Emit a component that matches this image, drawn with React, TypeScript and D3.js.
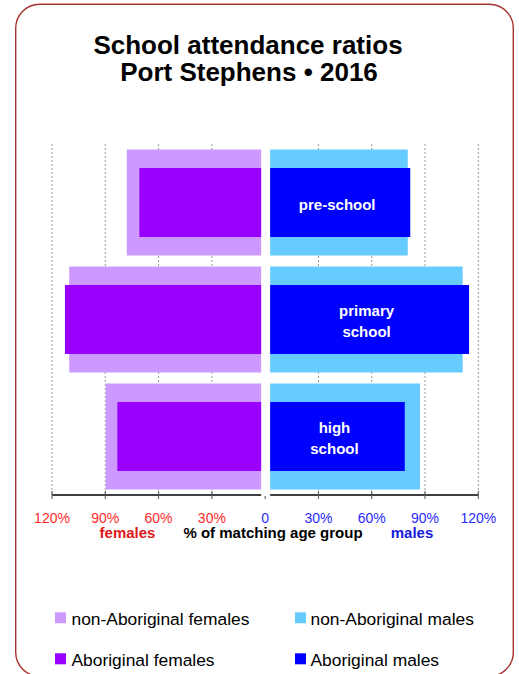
import React from "react";
import * as d3 from "d3";

const categories = ["pre-school", "primary school", "high school"];
const nonAborigFemales = [77.9, 110.3, 89.8];
const aborigFemales = [70.8, 112.7, 83.2];
const nonAborigMales = [80.3, 111.2, 87.2];
const aborigMales = [81.7, 114.8, 78.6];
const tickValues = [-120, -90, -60, -30, 0, 30, 60, 90, 120];
const tickLabels = ["120%", "90%", "60%", "30%", "0", "30%", "60%", "90%", "120%"];
const categoryLabels = [["pre-school"], ["primary", "school"], ["high", "school"]];

const C_LIGHT_F = "#cc99ff";
const C_DARK_F = "#9900ff";
const C_LIGHT_M = "#66ccff";
const C_DARK_M = "#0000ff";
const FONT = "Liberation Sans, Arial, Helvetica, sans-serif";

export default function App() {
  const W = 519, H = 674;
  const x = d3.scaleLinear().domain([-120, 120]).range([52, 478.3]);
  const y = d3.scaleBand().domain(categories).range([144, 495]).padding(0);
  const x0 = x(0);
  const gapL = 4, gapR = 5;
  const lightH = y.bandwidth() * 0.906;
  const darkH = y.bandwidth() * 0.59;
  const axisY = 495;

  return (
    <svg width={W} height={H} style={{ position: "absolute", left: 0, top: 0 }} fontFamily={FONT}>
      <rect x={0} y={0} width={W} height={H} fill="#fff" />
      <rect x={15.7} y={4.3} width={497.6} height={672} rx={24} ry={24} fill="#fff" stroke="#a83232" strokeWidth={1.4} />
      <text x={248} y={54} textAnchor="middle" fontSize={26} fontWeight="bold" fill="#000">School attendance ratios</text>
      <text x={249} y={81} textAnchor="middle" fontSize={26} fontWeight="bold" fill="#000">Port Stephens • 2016</text>

      {/* gridlines */}
      {tickValues.filter((t) => t !== 0).map((t, i) => (
        <line key={"g" + i} x1={x(t)} x2={x(t)} y1={144} y2={axisY} stroke="#999" strokeWidth={1} strokeDasharray="2,2" />
      ))}

      {/* bars */}
      {categories.map((c, i) => {
        const cy = (y(c) as number) + y.bandwidth() / 2;
        return (
          <g key={c}>
            <rect x={x(-nonAborigFemales[i])} y={cy - lightH / 2} width={x0 - gapL - x(-nonAborigFemales[i])} height={lightH} fill={C_LIGHT_F} />
            <rect x={x(-aborigFemales[i])} y={cy - darkH / 2} width={x0 - gapL - x(-aborigFemales[i])} height={darkH} fill={C_DARK_F} />
            <rect x={x0 + gapR} y={cy - lightH / 2} width={x(nonAborigMales[i]) - x0 - gapR} height={lightH} fill={C_LIGHT_M} />
            <rect x={x0 + gapR} y={cy - darkH / 2} width={x(aborigMales[i]) - x0 - gapR} height={darkH} fill={C_DARK_M} />
          </g>
        );
      })}

      {/* category labels */}
      {categories.map((c, i) => {
        const cy = (y(c) as number) + y.bandwidth() / 2;
        const cx = (x0 + gapR + x(aborigMales[i])) / 2 - 3;
        const lines = categoryLabels[i];
        const startY = lines.length === 1 ? cy + 7.5 : cy - 4;
        return (
          <text key={"l" + c} textAnchor="middle" fontSize={15} fontWeight="bold" fill="#fff">
            {lines.map((ln, j) => (
              <tspan key={j} x={cx} y={startY + j * 21}>{ln}</tspan>
            ))}
          </text>
        );
      })}

      {/* axis */}
      <line x1={x(-120)} x2={x0 - gapL} y1={axisY} y2={axisY} stroke="#000" strokeWidth={1.3} />
      <line x1={x0 + gapR} x2={x(120)} y1={axisY} y2={axisY} stroke="#000" strokeWidth={1.3} />
      {tickValues.map((t, i) => (
        <line key={"t" + i} x1={x(t)} x2={x(t)} y1={t === 0 ? 496 : 491} y2={499} stroke="#555" strokeWidth={1} />
      ))}
      {tickValues.map((t, i) => (
        <text key={"tl" + i} x={x(t)} y={522.5} textAnchor="middle" fontSize={14} fill={t < 0 ? "#ff2a2a" : "#2a2aff"}>
          {tickLabels[i]}
        </text>
      ))}
      <text x={127.5} y={538} textAnchor="middle" fontSize={15} fontWeight="bold" fill="#e01818">females</text>
      <text x={273} y={538} textAnchor="middle" fontSize={15} fontWeight="bold" fill="#000">% of matching age group</text>
      <text x={412} y={538} textAnchor="middle" fontSize={15} fontWeight="bold" fill="#1818e0">males</text>

      {/* legend */}
      <rect x={55} y={612.3} width={11} height={11} fill={C_LIGHT_F} />
      <text x={71.5} y={625} fontSize={17.4} fill="#000">non-Aboriginal females</text>
      <rect x={295} y={612.3} width={11} height={11} fill={C_LIGHT_M} />
      <text x={310.5} y={625} fontSize={17.4} fill="#000">non-Aboriginal males</text>
      <rect x={55} y={653.3} width={11} height={11} fill={C_DARK_F} />
      <text x={71.5} y={665.5} fontSize={17.4} fill="#000">Aboriginal females</text>
      <rect x={295} y={653.3} width={11} height={11} fill={C_DARK_M} />
      <text x={310.5} y={665.5} fontSize={17.4} fill="#000">Aboriginal males</text>
    </svg>
  );
}
